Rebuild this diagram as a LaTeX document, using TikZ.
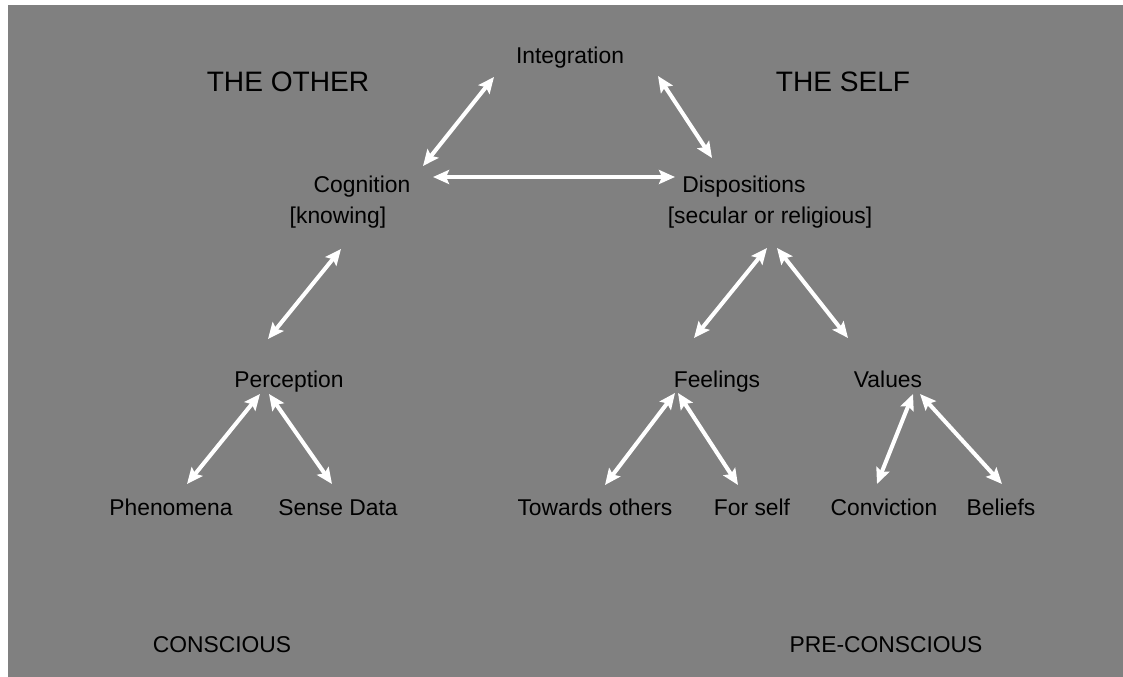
\documentclass[tikz,border=0pt]{standalone}
\usepackage{fontspec}
\setmainfont{Liberation Sans}
\usetikzlibrary{calc,arrows.meta}
\definecolor{bggray}{RGB}{128,128,128}
\tikzset{
	lbl/.style={anchor=base, inner sep=0pt, text=black, font=\fontsize{13}{15}\selectfont},
	ttl/.style={anchor=base, inner sep=0pt, text=black, font=\fontsize{16}{19}\selectfont},
	link/.style={white, line width=2.3pt, {Stealth[length=0.32cm,width=0.28cm,inset=0.06cm]}-{Stealth[length=0.32cm,width=0.28cm,inset=0.06cm]}}
}

\begin{document}
\begin{tikzpicture}
		%%%%% START %%%%%
		\useasboundingbox (0, 0) rectangle (22.46, 13.54);
		\fill[bggray] (0.16, 0) rectangle (22.46, 13.44);
		
		\node[ttl] (other) at (5.76, 11.70) {THE OTHER};
		\node[ttl] (self) at (16.86, 11.70) {THE SELF};
		
		\node[lbl] (int) at (11.40, 12.26) {Integration};
		\node[lbl] (cog) at (7.24, 9.68) {Cognition};
		\node[lbl] (know) at (6.76, 9.06) {[knowing]};
		\node[lbl] (disp) at (14.88, 9.68) {Dispositions};
		\node[lbl] (secrel) at (15.40, 9.06) {[secular or religious]};
		
		\node[lbl] (perc) at (5.78, 5.78) {Perception};
		\node[lbl] (feel) at (14.34, 5.78) {Feelings};
		\node[lbl] (val) at (17.76, 5.78) {Values};
		
		\node[lbl] (phen) at (3.42, 3.22) {Phenomena};
		\node[lbl] (sense) at (6.76, 3.22) {Sense Data};
		\node[lbl] (tow) at (11.90, 3.22) {Towards others};
		\node[lbl] (forself) at (15.04, 3.22) {For self};
		\node[lbl] (conv) at (17.68, 3.22) {Conviction};
		\node[lbl] (bel) at (20.02, 3.22) {Beliefs};
		
		\node[lbl] (consc) at (4.44, 0.50) {CONSCIOUS};
		\node[lbl] (precon) at (17.72, 0.50) {PRE-CONSCIOUS};
		
		% top triangle
		\draw[link] ($(cog.base)+(1.22, 0.54)$) -- ($(int.base)+(-1.52, -0.26)$);
		\draw[link] ($(int.base)+(1.76, -0.24)$) -- ($(disp.base)+(-0.64, 0.70)$);
		\draw[link] ($(cog.base)+(1.42, 0.32)$) -- ($(disp.base)+(-1.38, 0.32)$);
		
		% the other
		\draw[link] ($(know.base)+(0.06, -0.50)$) -- ($(perc.base)+(-0.42, 0.98)$);
		\draw[link] ($(perc.base)+(-0.58, -0.12)$) -- ($(phen.base)+(0.32, 0.64)$);
		\draw[link] ($(perc.base)+(-0.40, -0.12)$) -- ($(sense.base)+(-0.12, 0.64)$);
		
		% the self
		\draw[link] ($(secrel.base)+(-0.06, -0.48)$) -- ($(feel.base)+(-0.46, 1.00)$);
		\draw[link] ($(secrel.base)+(0.14, -0.48)$) -- ($(val.base)+(-0.80, 1.00)$);
		\draw[link] ($(feel.base)+(-0.84, -0.10)$) -- ($(tow.base)+(0.20, 0.62)$);
		\draw[link] ($(feel.base)+(-0.78, -0.10)$) -- ($(forself.base)+(-0.28, 0.62)$);
		\draw[link] ($(val.base)+(0.50, -0.12)$) -- ($(conv.base)+(-0.14, 0.64)$);
		\draw[link] ($(val.base)+(0.64, -0.12)$) -- ($(bel.base)+(0.02, 0.64)$);
		%%%%% END %%%%%
	\end{tikzpicture}
\end{document}
